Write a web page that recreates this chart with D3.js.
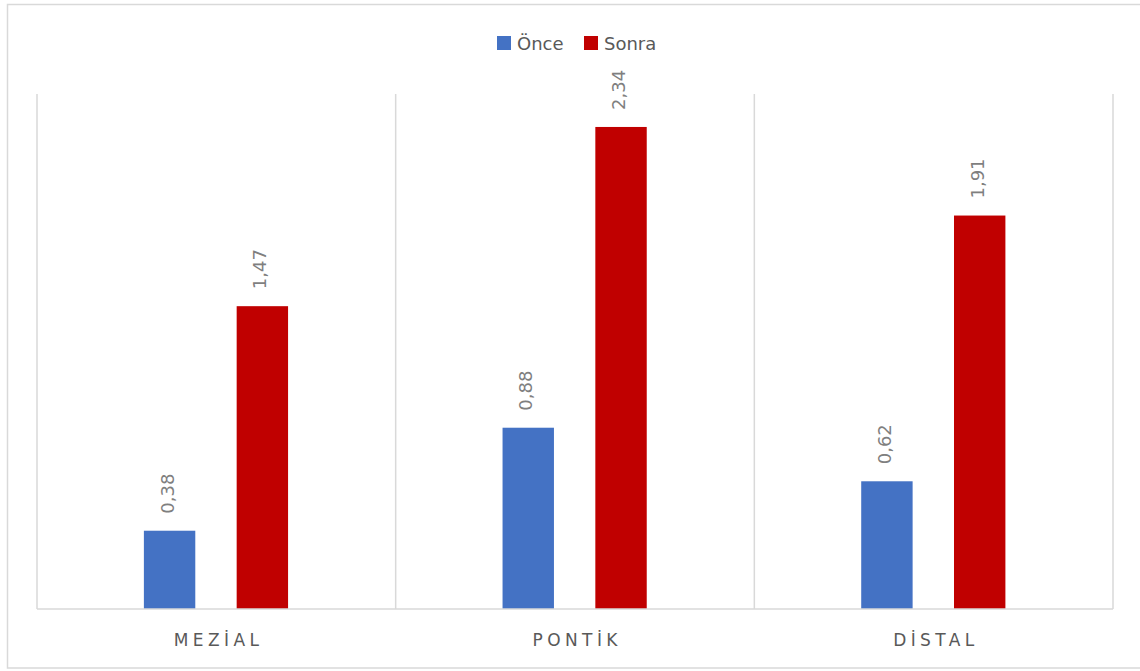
<!DOCTYPE html>
<html><head><meta charset="utf-8">
<script src="https://cdn.jsdelivr.net/npm/d3@7"></script>
<style>html,body{margin:0;padding:0;background:#fff;overflow:hidden}</style>
</head><body>
<svg id="c" width="1140" height="671"></svg>
<script>
const categories = ["MEZİAL", "PONTİK", "DİSTAL"];
const seriesNames = ["Önce", "Sonra"];
const once = [0.38, 0.88, 0.62];
const sonra = [1.47, 2.34, 1.91];
const colors = ["#4472C4", "#C00000"];
const yDomain = [0, 2.5];

const svg = d3.select("#c");
const font = "'DejaVu Sans', 'Open Sans', sans-serif";

svg.append("rect").attr("x", 7.5).attr("y", 4.5).attr("width", 1140).attr("height", 663.5)
  .attr("fill", "#fff").attr("stroke", "#d9d9d9").attr("stroke-width", 1.5);

const x0 = d3.scaleBand().domain(categories).range([37, 1113]).padding(0);
const bw0 = x0.bandwidth();
const x1 = d3.scaleBand().domain(seriesNames).range([bw0 * 0.298, bw0 * 0.70]).paddingInner(0.446).paddingOuter(0);
const y = d3.scaleLinear().domain(yDomain).range([609, 94]);

// vertical gridlines at category boundaries
const bounds = categories.map(c => x0(c)).concat([x0(categories[categories.length - 1]) + bw0]);
svg.append("g").selectAll("line").data(bounds).join("line")
  .attr("x1", d => d).attr("x2", d => d).attr("y1", y(yDomain[1])).attr("y2", y(0))
  .attr("stroke", "#d9d9d9").attr("stroke-width", 1.5);

const data = categories.map((c, i) => ({ cat: c, vals: [once[i], sonra[i]] }));
const g = svg.append("g");
data.forEach(d => {
  d.vals.forEach((v, j) => {
    const s = seriesNames[j];
    const bx = x0(d.cat) + x1(s);
    g.append("rect").attr("x", bx).attr("y", y(v)).attr("width", x1.bandwidth())
      .attr("height", y(0) - y(v)).attr("fill", colors[j]);
    const cx = bx + x1.bandwidth() / 2;
    const ty = y(v) - 17;
    g.append("text").attr("transform", `translate(${cx + 4},${ty}) rotate(-90)`)
      .attr("text-anchor", "start").attr("font-family", font).attr("font-size", 18)
      .attr("fill", "#7f7f7f").text(v.toFixed(2).replace(".", ","));
  });
});

// baseline
svg.append("line").attr("x1", 37).attr("x2", 1113).attr("y1", y(0)).attr("y2", y(0))
  .attr("stroke", "#d9d9d9").attr("stroke-width", 1.5);

// category axis
const xAxis = d3.axisBottom(x0).tickSize(0).tickPadding(0);
const ax = svg.append("g").attr("transform", `translate(0,${y(0)})`).call(xAxis);
ax.select(".domain").remove();
ax.selectAll("text").attr("font-family", font).attr("font-size", 17).attr("fill", "#595959")
  .attr("letter-spacing", "4.4px").attr("dy", 0).attr("y", 37).attr("dx", 2.2);

// legend
const leg = svg.append("g");
const legX = [497, 584];
seriesNames.forEach((s, i) => {
  leg.append("rect").attr("x", legX[i]).attr("y", 36).attr("width", 14).attr("height", 14).attr("fill", colors[i]);
  leg.append("text").attr("x", legX[i] + 20).attr("y", 50).attr("font-family", font)
    .attr("font-size", 18).attr("fill", "#595959").text(s);
});
</script>
</body></html>
